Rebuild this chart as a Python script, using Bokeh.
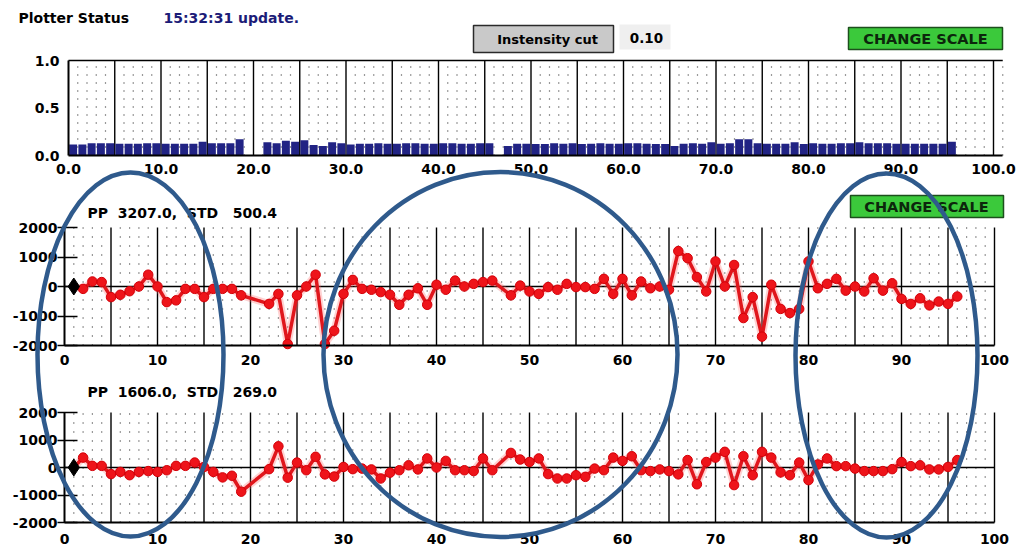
from bokeh.plotting import figure
from bokeh.models import Range1d, LinearAxis, FixedTicker, PrintfTickFormatter
from bokeh.core.properties import value
from bokeh.embed import file_html
from bokeh.resources import INLINE

FONT = "DejaVu Sans"
W, H = 1021, 550

# ---------------- data ----------------
bin_index = list(range(1, 97))
intensity = [0.115, 0.115, 0.13, 0.13, 0.13, 0.125, 0.125, 0.125, 0.13, 0.13,
             0.125, 0.125, 0.125, 0.125, 0.145, 0.13, 0.13, 0.13, 0.17, 0.0,
             0.0, 0.14, 0.13, 0.155, 0.145, 0.16, 0.11, 0.10, 0.14, 0.13,
             0.115, 0.125, 0.125, 0.13, 0.125, 0.125, 0.13, 0.13, 0.125, 0.125,
             0.13, 0.13, 0.125, 0.125, 0.13, 0.13, 0.0, 0.10, 0.125, 0.125,
             0.12, 0.12, 0.13, 0.125, 0.13, 0.12, 0.125, 0.13, 0.125, 0.125,
             0.13, 0.13, 0.125, 0.12, 0.12, 0.10, 0.125, 0.13, 0.125, 0.14,
             0.125, 0.13, 0.17, 0.17, 0.13, 0.125, 0.125, 0.125, 0.14, 0.12,
             0.13, 0.125, 0.125, 0.13, 0.13, 0.14, 0.13, 0.13, 0.13, 0.125,
             0.125, 0.125, 0.125, 0.125, 0.125, 0.145]

sample_no = [1, 2, 3, 4, 5, 6, 7, 8, 9, 10, 11, 12, 13, 14, 15, 16, 17, 18, 19,
             22, 23, 24, 25, 26, 27, 28, 29, 30, 31, 32, 33, 34, 35, 36, 37, 38,
             39, 40, 41, 42, 43, 44, 45, 46,
             48, 49, 50, 51, 52, 53, 54, 55, 56, 57, 58, 59, 60, 61, 62, 63, 64,
             65, 66, 67, 68, 69, 70, 71, 72, 73, 74, 75, 76, 77, 78, 79, 80, 81,
             82, 83, 84, 85, 86, 87, 88, 89, 90, 91, 92, 93, 94, 95, 96]

pp1_values = [0, -80, 170, 150, -360, -280, -160, 0, 400, 0, -530, -470, -80,
              -80, -360, -80, -80, -80, -300,
              -590, -250, -1950, -300, 0, 400, -1950, -1500, -250, 225, -80,
              -110, -190, -280, -620, -280, -60, -620, 60, -110, 200, 0, 90,
              150, 200,
              -300, 30, -170, -250, -20, -110, 90, -20, -20, -80, 260, -250,
              260, -300, 170, -60, 0, -110, 1200, 960, 320, -170, 850, 0, 730,
              -1070, -360, -1700, 60, -760, -900, -760, 850, -60, 90, 260,
              -140, 0, -170, 280, -140, 110, -420, -590, -400, -640, -510,
              -590, -340]

pp2_values = [0, 360, 60, 60, -240, -160, -280, -160, -130, -160, -100, 60, 60,
              180, 20, -160, -360, -300, -880,
              -60, 770, -370, 180, -100, 390, -250, -330, 20, -60, -40, -70,
              -400, -190, -100, 80, -70, 330, 0, 240, -100, -100, -130, 330,
              -100,
              530, 290, 200, 330, -240, -400, -400, -280, -340, -40, -100, 360,
              240, 410, -100, -130, -70, -130, -250, 270, -610, 200, 360, 570,
              -640, 410, -280, 570, 360, -180, -280, 180, -460, 110, 330, 50,
              50, -40, -130, -130, -130, -60, 200, 50, 80, -70, -70, 20, 270]

# (a regular space followed by no-break spaces keeps the wide gaps of the original)
pp1_label = "PP \u00a03207.0, \u00a0STD \u00a0\u00a0500.4"
pp2_label = "PP \u00a01606.0, \u00a0STD \u00a0\u00a0269.0"

top_x_ticks = [0, 10, 20, 30, 40, 50, 60, 70, 80, 90, 100]
top_y_ticks = [0.0, 0.5, 1.0]
wave_x_ticks = [0, 10, 20, 30, 40, 50, 60, 70, 80, 90, 100]
wave_y_ticks = [-2000, -1000, 0, 1000, 2000]


# ---------------- figure (pixel canvas + one range pair per panel) ----------------
def x_rng(px0, ppu):
    return Range1d(start=-px0 / ppu, end=(W - px0) / ppu)


def y_rng(py0, ppu):
    b = H - py0
    return Range1d(start=-b / ppu, end=py0 / ppu)


p = figure(width=W, height=H, x_range=Range1d(0, W), y_range=Range1d(H, 0),
           x_axis_type=None, y_axis_type=None, toolbar_location=None,
           output_backend="svg", min_border=0, outline_line_color=None,
           background_fill_color="white", border_fill_color="white")
p.grid.visible = False

p.extra_x_ranges = {"tx": x_rng(68, 9.25), "mx": x_rng(64, 9.3), "bx": x_rng(64, 9.3)}
p.extra_y_ranges = {"ty": y_rng(155, 95.0), "my": y_rng(286, 59 / 2000),
                    "by": y_rng(467, 110 / 4000)}


def grid(xn, yn, x1, y0, y1, solid_step, dot_max, dash):
    solid = [v for v in range(solid_step, x1 + 1, solid_step)]
    dots = [v for v in range(1, dot_max + 1) if v % solid_step != 0]
    p.segment(x0=dots, y0=[y0] * len(dots), x1=dots, y1=[y1] * len(dots),
              x_range_name=xn, y_range_name=yn, line_color="black",
              line_width=1.2, line_dash=dash, line_alpha=0.8)
    p.segment(x0=solid, y0=[y0] * len(solid), x1=solid, y1=[y1] * len(solid),
              x_range_name=xn, y_range_name=yn, line_color="black", line_width=1.4)


def axes(xn, yn, xb, yb, xticks, yticks, xfmt, yfmt, xstand, ystand, tin, tout):
    common = dict(major_label_text_font=FONT, major_label_text_font_style="bold",
                  major_label_text_font_size="14px", major_label_text_color="black",
                  axis_line_width=2, axis_line_color="black",
                  minor_tick_in=0, minor_tick_out=0)
    xa = LinearAxis(x_range_name=xn, y_range_name=yn, fixed_location=yb[0],
                    bounds=xb, ticker=FixedTicker(ticks=xticks),
                    formatter=PrintfTickFormatter(format=xfmt),
                    major_tick_in=0, major_tick_out=0,
                    major_label_standoff=xstand, **common)
    p.add_layout(xa, "below")
    ya = LinearAxis(x_range_name=xn, y_range_name=yn, fixed_location=xb[0],
                    bounds=yb, ticker=FixedTicker(ticks=yticks),
                    formatter=PrintfTickFormatter(format=yfmt),
                    major_tick_in=tin, major_tick_out=tout,
                    major_tick_line_width=1.5,
                    major_label_standoff=ystand, **common)
    p.add_layout(ya, "left")


# ---- top panel: intensity bars ----
grid("tx", "ty", 100, 0.0, 1.0, 5, 101, "1 7")
p.segment(x0=[0], y0=[1.0], x1=[101], y1=[1.0], x_range_name="tx", y_range_name="ty",
          line_color="black", line_width=1.5)
bar_center = [i - 0.5 for i in bin_index]
p.vbar(x=bar_center, top=intensity, bottom=0, width=0.86, x_range_name="tx",
       y_range_name="ty", fill_color="#212384", line_color=None)
axes("tx", "ty", (0, 101), (0.0, 1.0), top_x_ticks, top_y_ticks, "%.1f", "%.1f",
     8, 9, 0, 0)

# ---- middle & bottom panels: waveforms ----
for xn, yn, vals in (("mx", "my", pp1_values), ("bx", "by", pp2_values)):
    grid(xn, yn, 100, -2000, 2000, 5, 99, "1 8")
    p.segment(x0=[0], y0=[0], x1=[100], y1=[0], x_range_name=xn, y_range_name=yn,
              line_color="black", line_width=1.4)
    p.line(sample_no, vals, x_range_name=xn, y_range_name=yn,
           line_color="#ff6a6a", line_width=7.5, line_alpha=0.3)
    p.line(sample_no, vals, x_range_name=xn, y_range_name=yn,
           line_color="#e0161c", line_width=3.5)
    p.scatter(sample_no[1:], vals[1:], x_range_name=xn, y_range_name=yn, size=9.5,
              marker="circle", fill_color="#ee141a", line_color="#d40008")
    p.scatter(sample_no[:1], vals[:1], x_range_name=xn, y_range_name=yn, size=17,
              marker="diamond", fill_color="black", line_color="black")
    axes(xn, yn, (0, 100), (-2000, 2000), wave_x_ticks, wave_y_ticks, "%d", "%d",
         9 if xn == "mx" else 11, 0, 13, 7)

# ---------------- header / buttons (pixel canvas) ----------------
def txt(x, y, s, size, color="black", align="left"):
    p.text(x=[x], y=[y], text=[s], text_font=value(FONT), text_font_style="bold",
           text_font_size=size, text_color=color, text_align=align,
           text_baseline="middle")


txt(18, 17, "Plotter Status", "14px")
txt(163, 17, "15:32:31 update.", "14px", color="#1c1c78")

p.quad(left=[473], right=[613], top=[25], bottom=[52], fill_color="#c9c9c9",
       line_color="#2a2a2a", line_width=1.5)
txt(547, 39, "Instensity cut", "13px", align="center")
p.quad(left=[619], right=[670], top=[24], bottom=[49], fill_color="#efefef",
       line_color=None)
txt(646, 37, "0.10", "13.5px", align="center")

p.quad(left=[848, 850], right=[1002, 1003], top=[27, 195], bottom=[49, 217],
       fill_color="#3bc93b", line_color="#1d4f1d", line_width=1.5)
txt(925, 38, "CHANGE SCALE", "14.5px", color="#0c260c", align="center")
txt(926, 206, "CHANGE SCALE", "14.5px", color="#0c260c", align="center")

txt(87, 212, pp1_label, "14px")
txt(87, 391, pp2_label, "14px")

# ---------------- highlight ellipses (annotation overlay) ----------------
ell = p.ellipse(x=[130, 500, 886], y=[354, 354, 355], width=[186, 354, 182],
                height=[364, 365, 364], fill_color=None, line_color="#2f5a8c",
                line_width=4.5)
ell.level = "overlay"

open("out.html", "w").write(file_html(p, INLINE))
